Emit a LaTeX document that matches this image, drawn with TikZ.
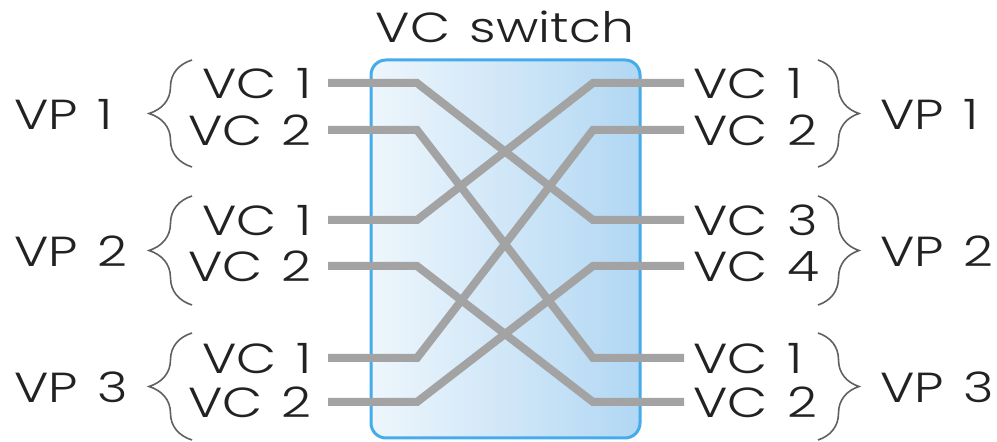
\documentclass[tikz,border=0pt]{standalone}
\usepackage{fontspec}
\setmainfont{Poppins}[UprightFont={* Light},WordSpace={1.35}]
\usetikzlibrary{calc,decorations.pathreplacing}

\definecolor{wiregray}{HTML}{A3A3A3}
\definecolor{boxedge}{HTML}{45ABEA}
\definecolor{boxleft}{HTML}{EEF6FC}
\definecolor{boxright}{HTML}{B1D7F3}
\definecolor{ink}{HTML}{222222}
\definecolor{bracegray}{HTML}{606060}
\newcommand{\wide}[1]{\scalebox{1.24}[1]{#1}}

\begin{document}
\begin{tikzpicture}[x=0.5pt,y=-0.5pt,
  lbl/.style={font=\fontsize{21}{21}\selectfont,text=ink,inner sep=0pt},
  wire/.style={draw=wiregray,line width=4pt},
  lgrp/.style={draw=bracegray,line width=0.8pt,decorate,decoration={brace,amplitude=21.5pt}},
  rgrp/.style={draw=bracegray,line width=0.8pt,decorate,decoration={brace,amplitude=20.5pt}},
  switchbox/.style={draw=boxedge,line width=1.5pt,rounded corners=7.5pt,
    left color=boxleft,right color=boxright,minimum width=134.5pt,minimum height=189pt}]
  \useasboundingbox (0,0) rectangle (997,442);

  % the switch
  \node[switchbox] (sw) at (505.5,249) {};
  \node[lbl,anchor=base] (title) at (505,43) {\wide{VC switch}};

  % incoming and outgoing channels
  \foreach \i/\y/\t in {1/83/1,2/130/2,3/220/1,4/266/2,5/358/1,6/402/2} {
    \coordinate (l\i) at (328,\y);
    \node[lbl,anchor=base east] (lin\i) at (312,\y+16) {\wide{VC \t}};
  }
  \foreach \i/\y/\t in {1/83/1,2/130/2,3/220/3,4/266/4,5/358/1,6/402/2} {
    \coordinate (r\i) at (684,\y);
    \node[lbl,anchor=base west] (rout\i) at (693,\y+16) {\wide{VC \t}};
  }

  % paths
  \foreach \a/\b in {1/3,2/5,3/1,4/6,5/2,6/4}
    \draw[wire] (l\a) -- ++(89,0) -- ($(r\b)+(-91,0)$) -- (r\b);

  % virtual paths
  \foreach \i/\top/\bot in {1/60/167,2/196/305,3/333/440} {
    \draw[lgrp] (192,\bot) -- (192,\top);
    \draw[rgrp] (818,\top) -- (818,\bot);
    \node[lbl,anchor=base west] (lvp\i) at (14,\top/2+\bot/2+16) {\wide{VP \i}};
    \node[lbl,anchor=base west] (rvp\i) at (880,\top/2+\bot/2+16) {\wide{VP \i}};
  }
\end{tikzpicture}
\end{document}
